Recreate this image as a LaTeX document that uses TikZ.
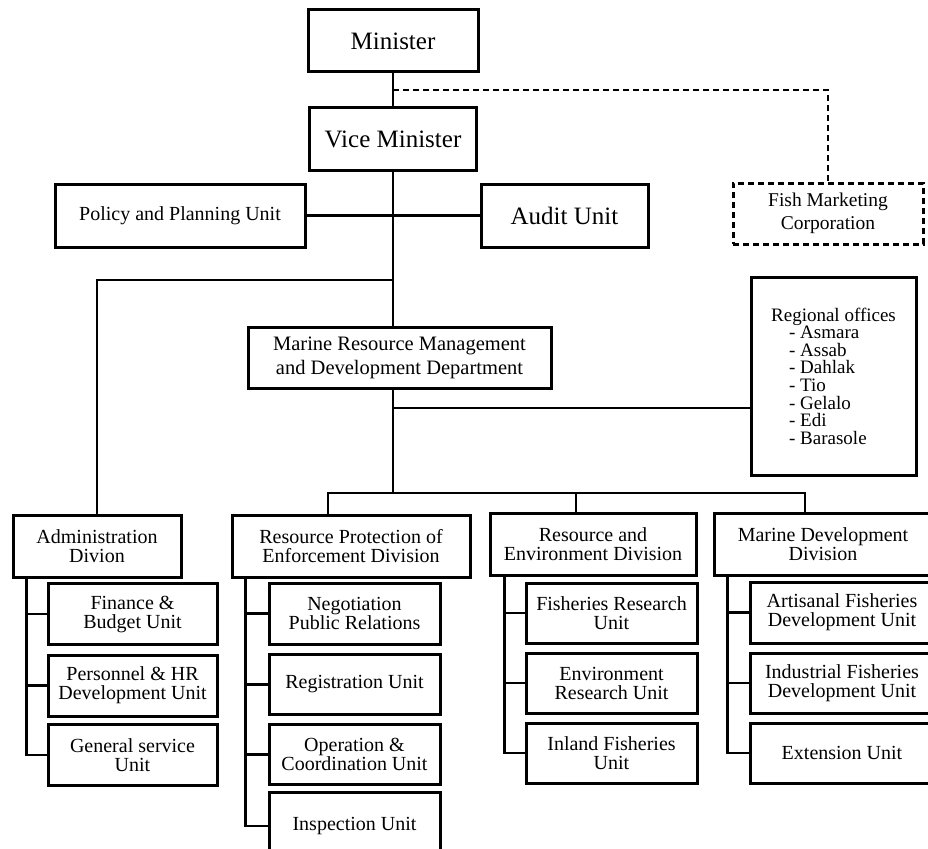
\documentclass[tikz,border=0pt]{standalone}
\usepackage{fontspec}
\setmainfont{Liberation Serif}
\usetikzlibrary{positioning,calc}

\begin{document}
\begin{tikzpicture}[x=1pt,y=-1pt,
  box/.style={draw,line width=3pt,align=center,inner sep=2pt,font=\fontsize{20}{19}\selectfont},
  bigbox/.style={box,font=\fontsize{25}{28}\selectfont},
  dashbox/.style={box,dash pattern=on 6pt off 4pt},
  size/.style 2 args={minimum width=#1pt,minimum height=#2pt},
  link/.style={line width=2.1pt},
  spine/.style={line width=2.8pt},
]
  \useasboundingbox (0,0) rectangle (928,848);

  % Top of the ministry
  \node[bigbox,size={170}{62}] (minister) at (393,41) {Minister};
  \node[bigbox,size={167}{62}] (vicemin) at (393,139) {Vice Minister};
  \node[box,size={250}{63}] (policy) at (180,215.5) {Policy and Planning Unit};
  \node[bigbox,size={167}{63}] (audit) at (564.5,215.5) {Audit Unit};
  \node[dashbox,size={190}{61},font=\fontsize{19.5}{23}\selectfont] (fishmkt) at (828,213.5) {Fish Marketing\\Corporation};

  % Department and regional offices
  \node[box,size={303}{61},font=\fontsize{20.5}{24}\selectfont] (marine) at (399.5,357.5) {Marine Resource Management\\and Development Department};
  \node[box,size={165}{198},align=left,font=\fontsize{19}{17.6}\selectfont] (regional) at (833.5,376) {Regional offices\\\hspace*{18pt}- Asmara\\\hspace*{18pt}- Assab\\\hspace*{18pt}- Dahlak\\\hspace*{18pt}- Tio\\\hspace*{18pt}- Gelalo\\\hspace*{18pt}- Edi\\\hspace*{18pt}- Barasole};

  % Divisions
  \node[box,size={168}{62}] (admindiv) at (97,546) {Administration\\Divion};
  \node[box,size={238}{62}] (protectdiv) at (351,546) {Resource Protection of\\Enforcement Division};
  \node[box,size={206}{62}] (envdiv) at (593,544) {Resource and\\Environment Division};
  \node[box,size={218}{62}] (devdiv) at (823,544) {Marine Development\\Division};

  % Administration units
  \node[box,size={169}{61}] (finance) at (132.5,614) {Finance \&\\Budget Unit};
  \node[box,size={169}{61}] (personnel) at (132.5,685.5) {Personnel \& HR\\Development Unit};
  \node[box,size={169}{61}] (general) at (132.5,755) {General service\\Unit};

  % Resource protection units
  \node[box,size={171}{61}] (negotiation) at (354.5,613.5) {Negotiation\\Public Relations};
  \node[box,size={171}{60}] (registration) at (354.5,684.5) {Registration Unit};
  \node[box,size={171}{60}] (operation) at (354.5,754.5) {Operation \&\\Coordination Unit};
  \node[box,size={171}{68}] (inspection) at (354.5,826) {Inspection Unit};

  % Resource and environment units
  \node[box,size={171}{60}] (fishres) at (611.5,613) {Fisheries Research\\Unit};
  \node[box,size={171}{60}] (envres) at (611.5,683) {Environment\\Research Unit};
  \node[box,size={171}{60}] (inland) at (611.5,753) {Inland Fisheries\\Unit};

  % Marine development units
  \node[box,size={184}{61}] (artisanal) at (842,612.5) {Artisanal Fisheries\\Development Unit};
  \node[box,size={184}{60}] (industrial) at (842,683) {Industrial Fisheries\\Development Unit};
  \node[box,size={184}{60}] (extension) at (842,753) {Extension Unit};

  % Joints on the main line
  \coordinate (dashjoin) at (393,90);
  \coordinate (adminjoin) at (393,280);
  \coordinate (regjoin) at (393,408);
  \coordinate (barmid) at (393,493);
  \coordinate (barL) at (328,493);
  \coordinate (barE) at (576,493);
  \coordinate (barR) at (805,493);

  % Main line
  \draw[spine] (minister) -- (vicemin);
  \draw[spine] (vicemin.south) -- (vicemin.south |- marine.north);
  \draw[spine] (marine.south -| barmid) -- (barmid);
  \draw[link,dash pattern=on 6pt off 4pt] (dashjoin) -| (fishmkt.north);
  \draw[link] (policy) -- (audit);
  \draw[link] (adminjoin) -| (admindiv.north);
  \draw[link] (regjoin) -- (regjoin -| regional.west);

  % Division bar
  \draw[link] (barL |- protectdiv.north) -- (barL) -- (barR) -- (barR |- devdiv.north);
  \draw[link] (barE) -- (barE |- envdiv.north);

  % Unit stems
  \coordinate (adminstem) at ([xshift=15pt]admindiv.south west);
  \coordinate (protectstem) at ([xshift=15pt]protectdiv.south west);
  \coordinate (envstem) at ([xshift=16pt]envdiv.south west);
  \coordinate (devstem) at ([xshift=15pt]devdiv.south west);

  \draw[link] (adminstem) |- (general.west);
  \draw[link] (adminstem) |- (personnel.west);
  \draw[link] (adminstem) |- (finance.west);
  \draw[link] (protectstem) |- (inspection.west);
  \draw[link] (protectstem) |- (operation.west);
  \draw[link] (protectstem) |- (registration.west);
  \draw[link] (protectstem) |- (negotiation.west);
  \draw[link] (envstem) |- (inland.west);
  \draw[link] (envstem) |- (envres.west);
  \draw[link] (envstem) |- (fishres.west);
  \draw[link] (devstem) |- (extension.west);
  \draw[link] (devstem) |- (industrial.west);
  \draw[link] (devstem) |- (artisanal.west);
\end{tikzpicture}
\end{document}
